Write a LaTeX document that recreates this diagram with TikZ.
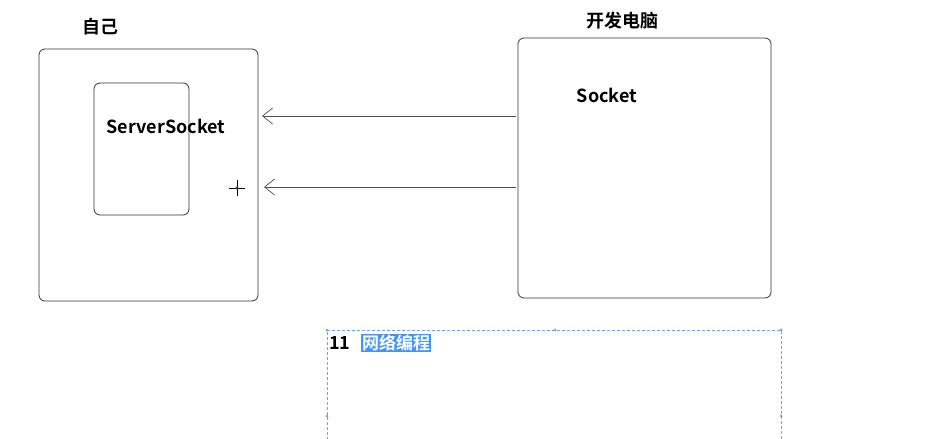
\documentclass[tikz,border=0pt]{standalone}
\usepackage{fontspec}
\setmainfont{Noto Sans CJK SC}[BoldFont={Noto Sans CJK SC Bold}]
\usetikzlibrary{arrows.meta}
\definecolor{selblue}{RGB}{70,150,240}
\definecolor{dashblue}{RGB}{110,165,230}
\begin{document}
\begin{tikzpicture}[x=1pt,y=-1pt,
  box/.style={draw=black!80,line width=0.8pt,rounded corners=6pt},
  lbl/.style={font=\fontsize{18}{20}\selectfont\bfseries,inner sep=0pt},
  conn/.style={draw=black!70,line width=0.7pt,-{Straight Barb[length=10pt,width=16pt,line width=0.7pt]}},
  handle/.style={fill=dashblue,circle,inner sep=0pt,minimum size=3pt}]
\useasboundingbox (0,0) rectangle (929,439);
\fill[white] (0,0) rectangle (929,439);
% boxes
\draw[box] (39,49) rectangle (258,301);
\draw[box] (94,83) rectangle (189,215);
\draw[box] (518,38) rectangle (771,298);
% labels
\node[lbl] (self) at (100,27) {自己};
\node[lbl] (dev) at (622,21) {开发电脑};
\node[lbl] (sock) at (607,95) {Socket};
\node[lbl] (ss) at (166,126) {ServerSocket};
% connector anchors
\coordinate (a1s) at (516,116);
\coordinate (a1e) at (262,116);
\coordinate (a2s) at (516,187);
\coordinate (a2e) at (264,187);
\draw[conn] (a1s) -- (a1e);
\draw[conn] (a2s) -- (a2e);
% cursor crosshair
\coordinate (cur) at (237,188);
\draw[black,line width=0.6pt] ([xshift=-8pt]cur) -- ([xshift=8pt]cur);
\draw[black,line width=0.6pt] ([yshift=-8pt]cur) -- ([yshift=8pt]cur);
\draw[black,fill=white,line width=0.5pt] (cur) circle (1.3pt);
% dashed selection frame
\draw[dashblue,dashed,line width=0.7pt,dash pattern=on 3pt off 2pt] (327,445) -- (327,330) -- (781,330) -- (781,445);
\node[handle] at (327,330) {};
\node[handle] at (781,330) {};
\node[handle] at (555,330) {};
\node[handle] at (327,416) {};
\node[handle] at (781,416) {};
\node[lbl,anchor=west] (num) at (329,343) {11};
\node[font=\fontsize{17}{19}\selectfont\bfseries,fill=selblue,text=white,inner sep=1pt,anchor=west] (title) at (361,343) {网络编程};
\end{tikzpicture}
\end{document}
